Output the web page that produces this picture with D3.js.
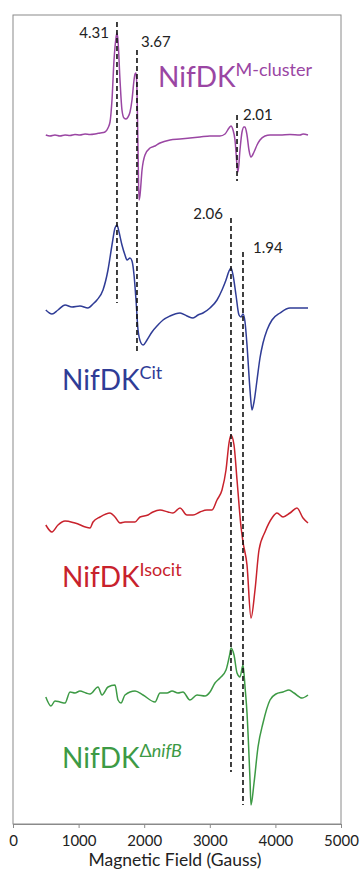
<!DOCTYPE html>
<html>
<head>
<meta charset="utf-8">
<script src="https://cdn.jsdelivr.net/npm/d3@7"></script>
<style>
  html, body { margin: 0; padding: 0; background: #fff; }
  svg { display: block; font-family: Lato, "Open Sans", sans-serif; }
</style>
</head>
<body>
<div class="chart"></div>
<script>
// EPR spectra, [field (G), signal (a.u., relative to each trace's baseline)]
const mClusterSpectrum = [
  [500, 0], [564, -1], [640, 0], [716, -1], [793, 0], [869, -0.5], [945, 0.5], [1021, 0],
  [1098, 1], [1174, 0.5], [1250, 1], [1326, 2], [1402, 3], [1448, 7], [1479, 13], [1509, 35],
  [1540, 75], [1570, 97], [1585, 102], [1600, 95], [1631, 55], [1661, 25], [1692, 17],
  [1723, 16], [1753, 18], [1784, 23], [1814, 35], [1845, 55], [1860, 61], [1875, 62],
  [1890, 45], [1906, -15], [1921, -65], [1936, -60], [1967, -35], [2012, -20], [2088, -13],
  [2165, -11], [2241, -8], [2393, -5], [2546, -4], [2698, -3], [2851, -2], [3003, -1],
  [3155, -1], [3232, 1], [3293, 7], [3323, 9], [3354, 5], [3384, -5], [3415, -30], [3430, -37],
  [3460, -15], [3491, 3], [3521, 8], [3537, 8], [3567, 0], [3597, -15], [3628, -22],
  [3674, -17], [3720, -10], [3765, -5], [3841, -1], [3918, 0], [4070, 0], [4222, 0.5],
  [4375, 0], [4421, 1], [4497, 0]
];
const citSpectrum = [
  [500, 0], [594, -4], [686, 0], [793, 5], [899, 3], [1021, 4], [1143, 2], [1220, 6],
  [1280, 10], [1372, 20], [1448, 40], [1509, 65], [1555, 82], [1585, 85], [1616, 78],
  [1661, 65], [1707, 55], [1738, 50], [1784, 52], [1814, 49], [1845, 35], [1875, 10],
  [1906, -20], [1951, -33], [1982, -35], [2043, -30], [2119, -22], [2210, -15], [2287, -10],
  [2393, -6], [2546, -3], [2652, -6], [2744, -8], [2820, -5], [2896, -3], [3003, 2],
  [3110, 10], [3186, 20], [3247, 30], [3293, 39], [3323, 42], [3354, 35], [3399, 15],
  [3445, -5], [3476, -7], [3506, -4], [3537, -12], [3567, -35], [3613, -80], [3643, -100],
  [3674, -92], [3720, -70], [3765, -48], [3811, -33], [3872, -20], [3948, -10], [4070, -3],
  [4222, 2], [4375, 2], [4497, 2]
];
const isocitSpectrum = [
  [500, 0], [594, -7], [686, 0], [793, 4], [945, 2], [1174, -3], [1220, 3], [1326, 8],
  [1479, 12], [1555, 8], [1631, 2], [1707, 3], [1860, 3], [1936, 8], [2058, 10], [2134, 13],
  [2241, 15], [2363, 13], [2439, 12], [2546, 17], [2652, 10], [2744, 10], [2851, 13],
  [2957, 15], [3034, 15], [3110, 25], [3186, 35], [3247, 55], [3293, 82], [3323, 90],
  [3369, 80], [3415, 45], [3476, -2], [3506, -17], [3567, -40], [3628, -93], [3689, -65],
  [3750, -25], [3841, -7], [3948, 7], [4024, 12], [4116, 8], [4222, 12], [4329, 17],
  [4421, 7], [4497, 2]
];
const nifBSpectrum = [
  [500, -2], [579, -11], [640, -6], [716, -7], [793, -8], [869, 3], [945, 2], [1021, 4],
  [1113, 2], [1174, 1], [1296, 8], [1357, 0], [1448, 8], [1555, 10], [1601, -5], [1646, -8],
  [1707, 0], [1860, 4], [1982, 0], [2165, -7], [2241, 2], [2348, 2], [2424, 4], [2515, 2],
  [2591, 3], [2698, -5], [2805, 0], [2927, -1], [3003, 3], [3079, 12], [3155, 17],
  [3247, 25], [3308, 42], [3323, 47], [3369, 40], [3415, 22], [3460, 18], [3506, 30],
  [3537, 8], [3567, -18], [3613, -85], [3628, -110], [3674, -88], [3735, -52], [3811, -28],
  [3918, -5], [4009, 1], [4116, 3], [4207, 5], [4284, 2], [4405, -3], [4497, 0]
];

const seriesNames = ["M-cluster", "Cit", "Isocit", "ΔnifB"];
const seriesOffsets = [689, 514, 299, 129];
const seriesColors = ["#9a46a3", "#2f3c96", "#c8222c", "#3d9a45"];

// g-value markers: label, field (G), top and bottom of the dashed line (a.u.)
const gLabels = ["4.31", "3.67", "2.01", "2.06", "1.94"];
const gFields = [1585, 1890, 3415, 3323, 3506];
const gTops = [802, 774, 709, 606, 572];
const gBottoms = [521, 472, 643, 52, 19];

const xTicks = [0, 1000, 2000, 3000, 4000, 5000];

const width = 360, height = 872;
const plot = { left: 13, right: 341, top: 15, bottom: 824 };

const svg = d3.select(".chart").append("svg")
  .attr("width", width)
  .attr("height", height);

const x = d3.scaleLinear().domain([0, 5000]).range([plot.left, plot.right]);
const y = d3.scaleLinear().domain([0, 809]).range([plot.bottom, plot.top]);

// frame
svg.append("rect")
  .attr("x", plot.left).attr("y", plot.top)
  .attr("width", plot.right - plot.left).attr("height", plot.bottom - plot.top)
  .attr("fill", "none").attr("stroke", "#8a8a8a").attr("stroke-width", 1);

const xAxis = svg.append("g")
  .attr("transform", "translate(0," + plot.bottom + ")")
  .call(d3.axisBottom(x).tickValues(xTicks).tickFormat(d3.format("d"))
    .tickSize(4).tickSizeOuter(0).tickPadding(7));
xAxis.select(".domain").attr("stroke", "#8a8a8a");
xAxis.selectAll(".tick line").attr("stroke", "#8a8a8a");
xAxis.selectAll(".tick text").attr("font-size", 15).attr("fill", "#222")
  .attr("font-family", "Lato, sans-serif");

svg.append("text")
  .attr("x", 175).attr("y", 866)
  .attr("text-anchor", "middle")
  .attr("font-size", 17.5).attr("fill", "#222")
  .text("Magnetic Field (Gauss)");

// spectra
const spectra = [mClusterSpectrum, citSpectrum, isocitSpectrum, nifBSpectrum];
spectra.forEach((data, i) => {
  const line = d3.line()
    .x(d => x(d[0]))
    .y(d => y(d[1] + seriesOffsets[i]))
    .curve(d3.curveMonotoneX);
  svg.append("path")
    .datum(data)
    .attr("fill", "none")
    .attr("stroke", seriesColors[i])
    .attr("stroke-width", 1.5)
    .attr("stroke-linejoin", "round")
    .attr("d", line);
});

// dashed g markers
const labelPlacement = [
  { dx: -8, dy: 16, anchor: "end" },
  { dx: 4, dy: -3, anchor: "start" },
  { dx: 6, dy: 5, anchor: "start" },
  { dx: -8, dy: 1, anchor: "end" },
  { dx: 10, dy: 1, anchor: "start" }
];
gLabels.forEach((g, i) => {
  svg.append("line")
    .attr("x1", x(gFields[i])).attr("x2", x(gFields[i]))
    .attr("y1", y(gTops[i])).attr("y2", y(gBottoms[i]))
    .attr("stroke", "#111").attr("stroke-width", 1.6)
    .attr("stroke-dasharray", "5,3");
  svg.append("text")
    .attr("x", x(gFields[i]) + labelPlacement[i].dx)
    .attr("y", y(gTops[i]) + labelPlacement[i].dy)
    .attr("text-anchor", labelPlacement[i].anchor)
    .attr("font-size", 15).attr("fill", "#222")
    .text(g);
});

// series names
const namePos = [[158, 87], [62, 390], [62, 587], [62, 768]];
seriesNames.forEach((name, i) => {
  const t = svg.append("text")
    .attr("x", namePos[i][0]).attr("y", namePos[i][1])
    .attr("fill", seriesColors[i])
    .attr("font-size", 28);
  t.append("tspan").text("NifDK");
  if (name === "ΔnifB") {
    const sup = t.append("tspan").attr("font-size", 18).attr("dy", -11);
    sup.append("tspan").text("Δ");
    sup.append("tspan").attr("font-style", "italic").text("nifB");
  } else {
    t.append("tspan").attr("font-size", 18).attr("dy", -11).text(name);
  }
});
</script>
</body>
</html>
